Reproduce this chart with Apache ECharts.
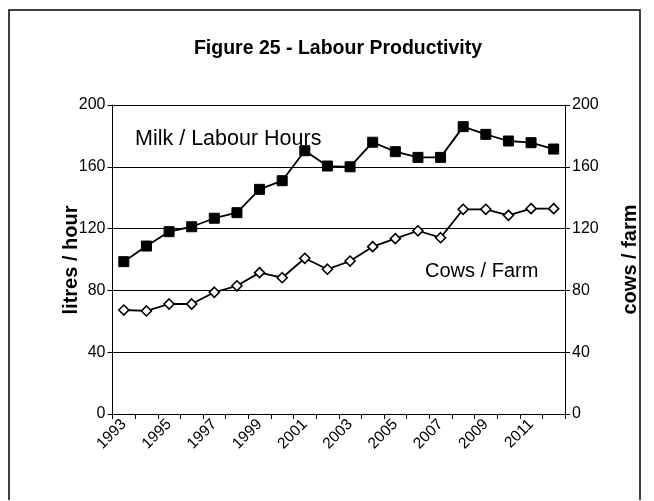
<!DOCTYPE html>
<html>
<head>
<meta charset="utf-8">
<script src="https://cdn.jsdelivr.net/npm/echarts@6/dist/echarts.min.js"></script>
<style>html,body{margin:0;padding:0;background:#fff}#c{width:654px;height:501px}</style>
</head>
<body>
<div id="c"></div>
<script>
var years = ['1993','1994','1995','1996','1997','1998','1999','2000','2001','2002','2003','2004','2005','2006','2007','2008','2009','2010','2011','2012'];
var milkPerLabourHour = [98.6,108.7,118,121.2,126.7,130.3,145.4,151,170.4,160.5,160,175.9,169.8,166.1,166.1,186,181,176.7,175.6,171.5];
var cowsPerFarm = [67.3,66.7,71.2,71.2,78.8,83,91.5,88.2,100.8,93.7,99,108.3,113.5,118.6,114.1,132.5,132.5,128.6,132.9,132.9];
var yTicks = [0,40,80,120,160,200];

var chart = echarts.init(document.getElementById('c'));
var font = 'Liberation Sans, Arial, sans-serif';
chart.setOption({
  animation: false,
  backgroundColor: '#fff',
  title: {
    text: 'Figure 25 - Labour Productivity',
    left: 333, top: 34, textAlign: 'center',
    textStyle: {fontFamily: font, fontSize: 19.5, fontWeight: 'bold', color: '#000'}
  },
  grid: {left: 112.5, right: 89, top: 105, bottom: 87},
  xAxis: {
    type: 'category', data: years, boundaryGap: true,
    axisLine: {lineStyle: {color: '#000', width: 1}},
    axisTick: {show: true, interval: 0, length: 5, lineStyle: {color: '#000'}},
    axisLabel: {interval: 1, rotate: 45, fontFamily: font, fontSize: 15.5, color: '#000', margin: 8}
  },
  yAxis: [{
    type: 'value', min: 0, max: 200, interval: 40,
    axisLine: {show: true, lineStyle: {color: '#000'}},
    axisTick: {show: true, length: 5, lineStyle: {color: '#000'}},
    axisLabel: {fontFamily: font, fontSize: 16, color: '#000', margin: 7},
    splitLine: {show: true, lineStyle: {color: '#000', width: 1}}
  }, {
    type: 'value', min: 0, max: 200, interval: 40, position: 'right',
    name: 'cows / farm', nameLocation: 'middle', nameGap: 55, nameRotate: 90,
    nameTextStyle: {fontFamily: font, fontSize: 20, fontWeight: 'bold', color: '#000'},
    axisLine: {show: true, lineStyle: {color: '#000'}},
    axisTick: {show: true, length: 5, lineStyle: {color: '#000'}},
    axisLabel: {fontFamily: font, fontSize: 16, color: '#000', margin: 7},
    splitLine: {show: false}
  }],
  series: [{
    name: 'Milk / Labour Hours', type: 'line', yAxisIndex: 0, data: milkPerLabourHour,
    symbol: 'rect', symbolSize: 10,
    lineStyle: {color: '#000', width: 1.8},
    itemStyle: {color: '#000', borderColor: '#000'}
  }, {
    name: 'Cows / Farm', type: 'line', yAxisIndex: 1, data: cowsPerFarm,
    symbol: 'diamond', symbolSize: 10,
    lineStyle: {color: '#000', width: 1.8},
    itemStyle: {color: '#fff', borderColor: '#000', borderWidth: 1.6}
  }],
  graphic: [
    {type: 'polyline', shape: {points: [[9, 500], [9, 10], [640, 10], [640, 500]]}, style: {stroke: '#000', lineWidth: 1.5, fill: null}},
    {type: 'text', x: 71, y: 260, rotation: Math.PI / 2, style: {text: 'litres / hour', align: 'center', verticalAlign: 'middle', fontFamily: font, fontSize: 20, fontWeight: 'bold', fill: '#000'}},
    {type: 'text', left: 135, top: 128, z: 10, style: {text: 'Milk / Labour Hours', fontFamily: font, fontSize: 21.5, fill: '#000'}},
    {type: 'text', left: 425, top: 261, style: {text: 'Cows / Farm', fontFamily: font, fontSize: 20, fill: '#000'}}
  ]
});
</script>
</body>
</html>
